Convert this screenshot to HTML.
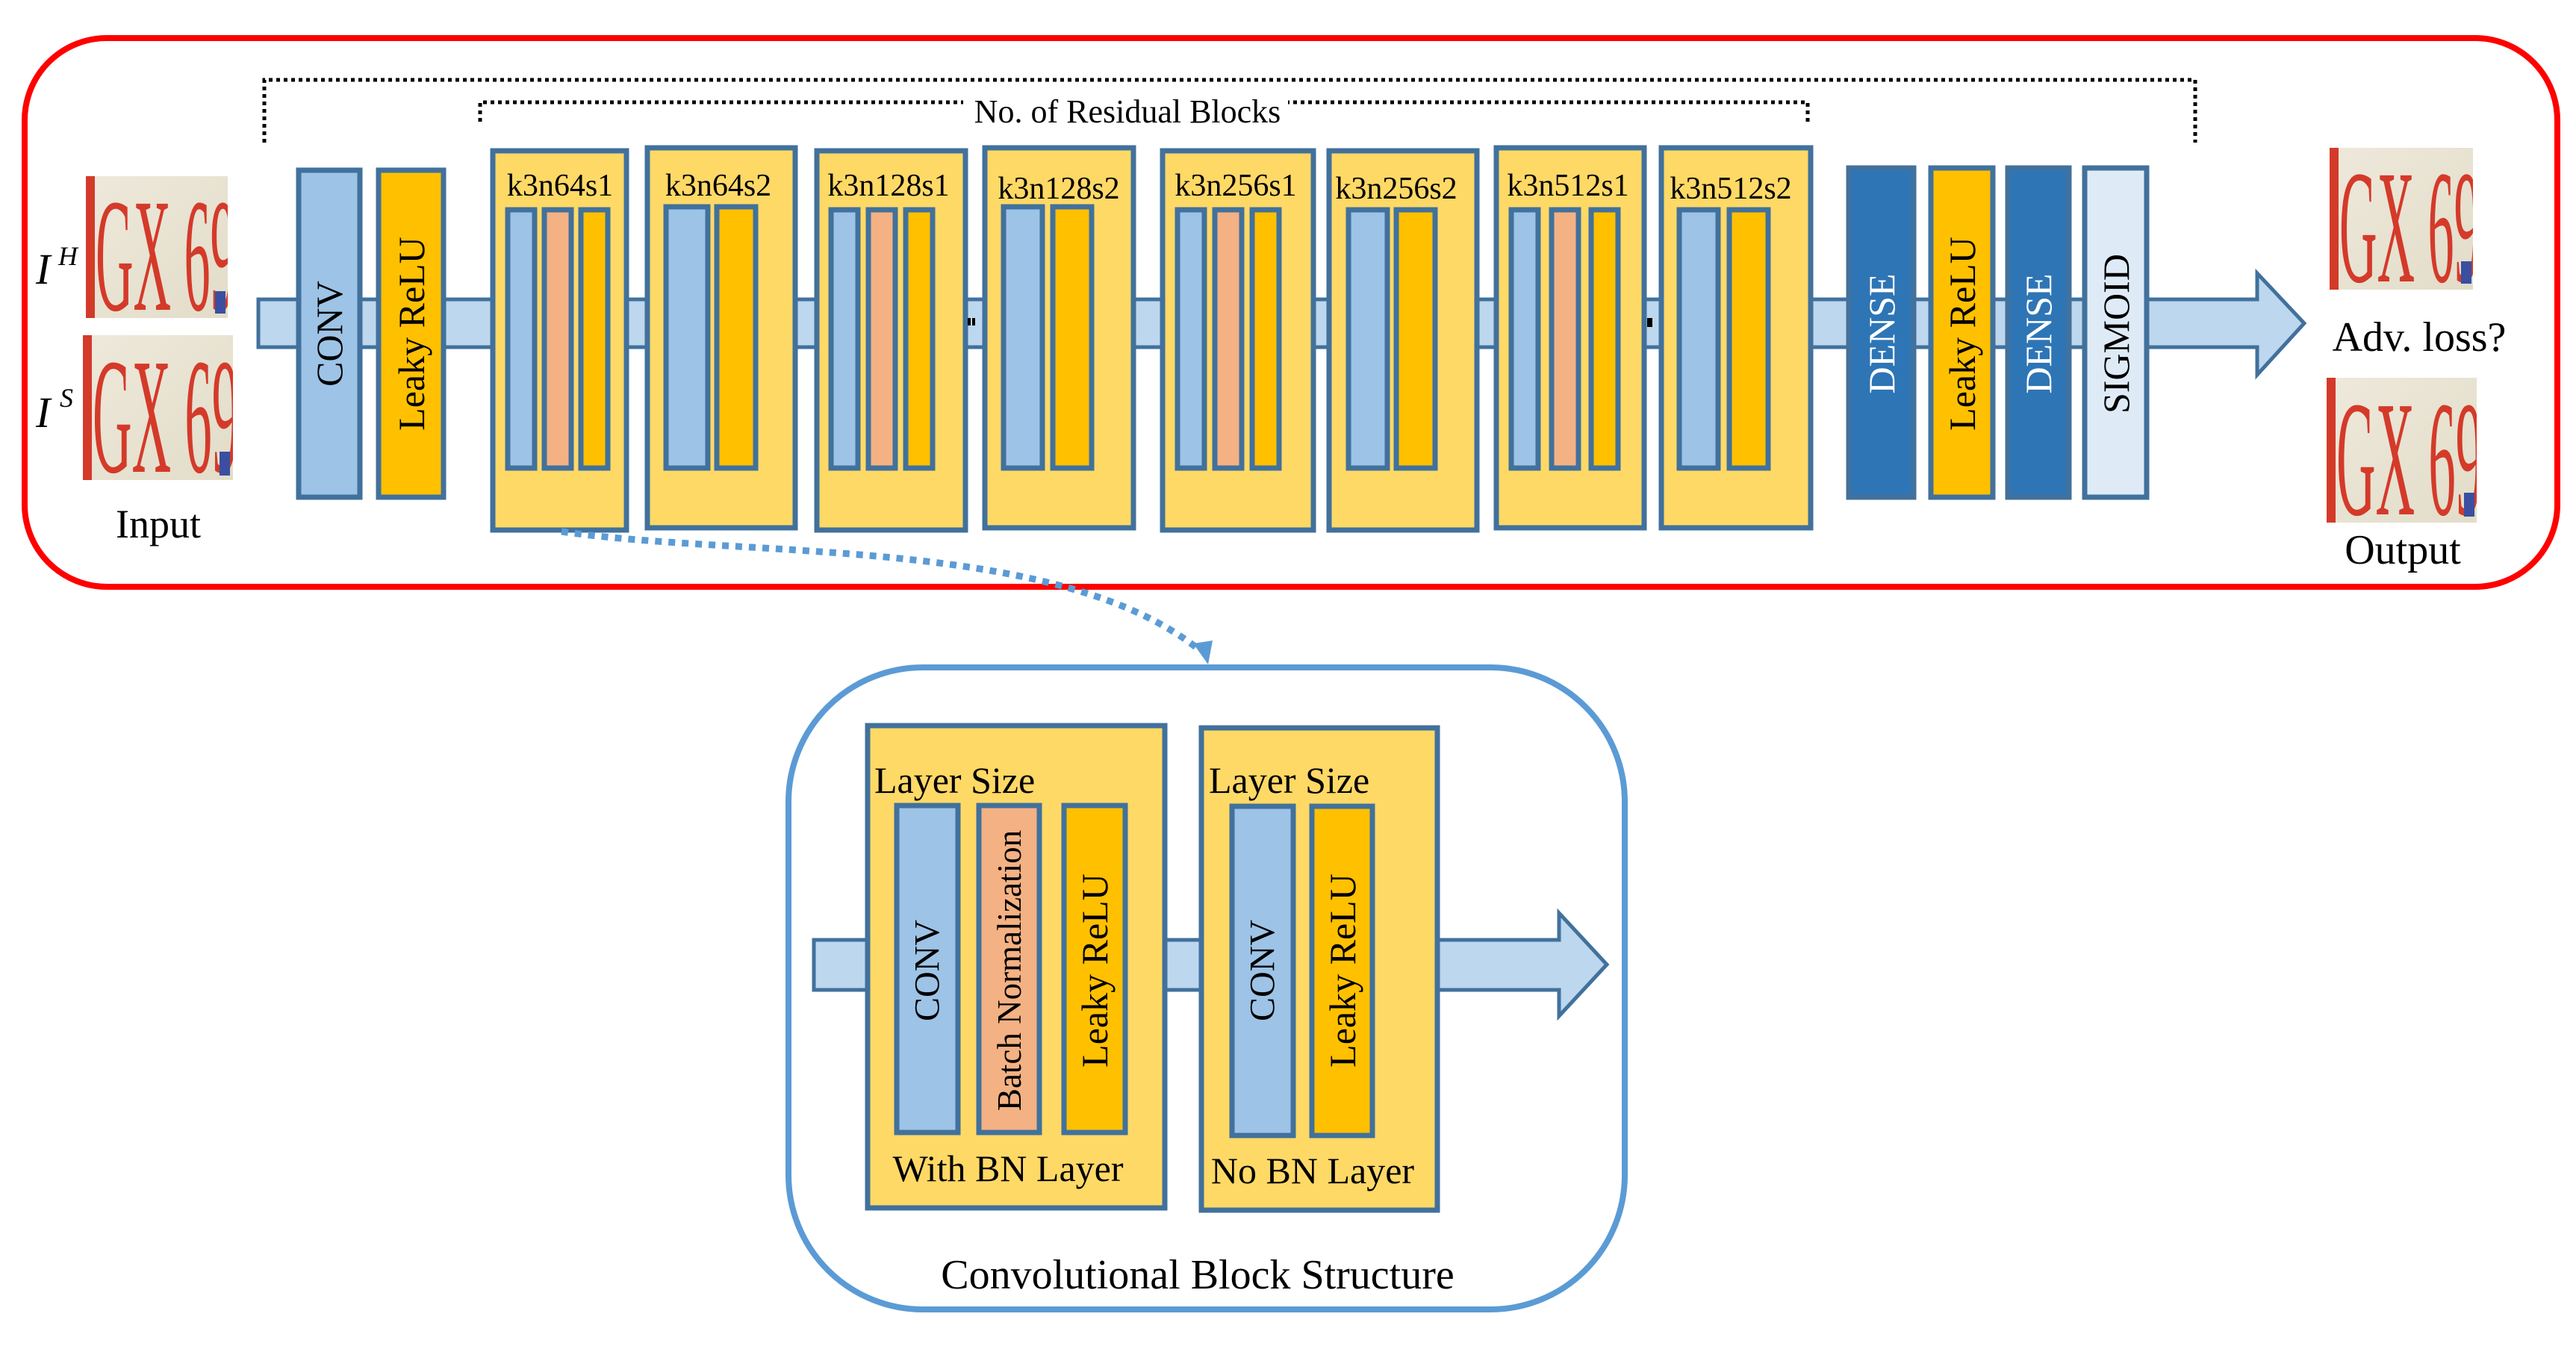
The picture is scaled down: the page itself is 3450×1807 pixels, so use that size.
<!DOCTYPE html>
<html><head><meta charset="utf-8"><style>
html,body{margin:0;padding:0;background:#fff;}
svg{display:block;}
svg text{font-family:"Liberation Serif","DejaVu Serif",serif;}
</style></head><body>
<svg width="3450" height="1807" viewBox="0 0 3450 1807" xmlns="http://www.w3.org/2000/svg" font-family="Liberation Serif, serif">
<defs>
<linearGradient id="plate" x1="0" y1="0" x2="1" y2="1">
<stop offset="0" stop-color="#efe9dc"/><stop offset="1" stop-color="#e2dcc8"/>
</linearGradient>
<clipPath id="c1"><rect x="115" y="236" width="190" height="190"/></clipPath>
<clipPath id="c2"><rect x="111" y="449" width="201" height="194"/></clipPath>
<clipPath id="c3"><rect x="3120" y="198" width="192" height="190"/></clipPath>
<clipPath id="c4"><rect x="3116" y="506" width="201" height="194"/></clipPath>
</defs>
<rect x="33" y="51" width="3392" height="735" rx="110" ry="110" fill="#fff" stroke="#ff0000" stroke-width="8"/>

<path d="M354,191 V107 H2940 V191" fill="none" stroke="#000" stroke-width="5" stroke-dasharray="5 5"/>
<path d="M643,163 V137 H1290 M2421,163 V137 H1725" fill="none" stroke="#000" stroke-width="5" stroke-dasharray="5 5"/>
<text x="1510" y="164" font-size="44" text-anchor="middle">No. of Residual Blocks</text>

<rect x="115" y="236" width="190" height="190" fill="url(#plate)"/>
<g clip-path="url(#c1)"><rect x="115" y="236" width="12" height="190" fill="#d43a2a"/><g transform="translate(128,415) scale(0.5,1.55)"><text font-family="Liberation Sans, sans-serif" font-size="140" fill="#d43a2a">GX 6935</text></g></g>
<rect x="288" y="390" width="14" height="30" fill="#3a4fa0"/>
<rect x="111" y="449" width="201" height="194" fill="url(#plate)"/>
<g clip-path="url(#c2)"><rect x="111" y="449" width="12" height="194" fill="#d43a2a"/><g transform="translate(124,632) scale(0.52,1.58)"><text font-family="Liberation Sans, sans-serif" font-size="140" fill="#d43a2a">GX 6935</text></g></g>
<rect x="294" y="605" width="14" height="32" fill="#3a4fa0"/>
<text x="48" y="380" font-size="58" font-style="italic">I</text><text x="78" y="355" font-size="36" font-style="italic">H</text>
<text x="48" y="572" font-size="58" font-style="italic">I</text><text x="80" y="545" font-size="36" font-style="italic">S</text>
<text x="212" y="720" font-size="54" text-anchor="middle">Input</text>

<rect x="3120" y="198" width="192" height="190" fill="url(#plate)"/>
<g clip-path="url(#c3)"><rect x="3120" y="198" width="12" height="190" fill="#d43a2a"/><g transform="translate(3133,377) scale(0.5,1.55)"><text font-family="Liberation Sans, sans-serif" font-size="140" fill="#d43a2a">GX 6935</text></g></g>
<rect x="3296" y="350" width="14" height="30" fill="#3a4fa0"/>
<rect x="3116" y="506" width="201" height="194" fill="url(#plate)"/>
<g clip-path="url(#c4)"><rect x="3116" y="506" width="12" height="194" fill="#d43a2a"/><g transform="translate(3129,689) scale(0.52,1.58)"><text font-family="Liberation Sans, sans-serif" font-size="140" fill="#d43a2a">GX 6935</text></g></g>
<rect x="3300" y="660" width="14" height="32" fill="#3a4fa0"/>
<text x="3240" y="470" font-size="56" text-anchor="middle">Adv. loss?</text>
<text x="3218" y="755" font-size="56" text-anchor="middle">Output</text>

<path d="M346,401 H3023 V366 L3086,433 L3023,502 V465 H346 Z" fill="#bdd7ee" stroke="#41719c" stroke-width="5"/>

<rect x="400" y="228" width="82" height="438" fill="#9dc3e6" stroke="#41719c" stroke-width="7"/>
<text transform="translate(441,447) rotate(-90)" font-size="50" text-anchor="middle" dominant-baseline="central">CONV</text>
<rect x="507" y="228" width="87" height="438" fill="#ffc000" stroke="#41719c" stroke-width="7"/>
<text transform="translate(551,447) rotate(-90)" font-size="50" text-anchor="middle" dominant-baseline="central">Leaky ReLU</text>

<g stroke="#41719c" stroke-width="7">
<rect x="660" y="202" width="179" height="508" fill="#ffd966"/>
<rect x="867" y="198" width="198" height="509" fill="#ffd966"/>
<rect x="1094" y="202" width="199" height="508" fill="#ffd966"/>
<rect x="1319" y="198" width="199" height="509" fill="#ffd966"/>
<rect x="1557" y="202" width="202" height="508" fill="#ffd966"/>
<rect x="1780" y="202" width="198" height="508" fill="#ffd966"/>
<rect x="2004" y="198" width="198" height="509" fill="#ffd966"/>
<rect x="2225" y="198" width="200" height="509" fill="#ffd966"/>
</g>
<g font-size="42" text-anchor="middle">
<text x="750" y="262">k3n64s1</text>
<text x="962" y="262">k3n64s2</text>
<text x="1190" y="262">k3n128s1</text>
<text x="1418" y="266">k3n128s2</text>
<text x="1655" y="262">k3n256s1</text>
<text x="1870" y="266">k3n256s2</text>
<text x="2100" y="262">k3n512s1</text>
<text x="2318" y="266">k3n512s2</text>
</g>
<g stroke="#41719c" stroke-width="7">
<rect x="680" y="281" width="36" height="346" fill="#9dc3e6"/>
<rect x="729" y="281" width="36" height="346" fill="#f4b183"/>
<rect x="778" y="281" width="36" height="346" fill="#ffc000"/>
<rect x="1113" y="281" width="36" height="346" fill="#9dc3e6"/>
<rect x="1163" y="281" width="36" height="346" fill="#f4b183"/>
<rect x="1213" y="281" width="36" height="346" fill="#ffc000"/>
<rect x="1577" y="281" width="36" height="346" fill="#9dc3e6"/>
<rect x="1627" y="281" width="36" height="346" fill="#f4b183"/>
<rect x="1677" y="281" width="36" height="346" fill="#ffc000"/>
<rect x="2024" y="281" width="36" height="346" fill="#9dc3e6"/>
<rect x="2078" y="281" width="36" height="346" fill="#f4b183"/>
<rect x="2131" y="281" width="36" height="346" fill="#ffc000"/>
<rect x="892" y="277" width="56" height="350" fill="#9dc3e6"/>
<rect x="960" y="277" width="52" height="350" fill="#ffc000"/>
<rect x="1344" y="277" width="52" height="350" fill="#9dc3e6"/>
<rect x="1410" y="277" width="52" height="350" fill="#ffc000"/>
<rect x="1806" y="281" width="52" height="346" fill="#9dc3e6"/>
<rect x="1870" y="281" width="52" height="346" fill="#ffc000"/>
<rect x="2249" y="281" width="52" height="346" fill="#9dc3e6"/>
<rect x="2316" y="281" width="52" height="346" fill="#ffc000"/>
</g>
<rect x="1296" y="426" width="4" height="10" fill="#000"/><rect x="1302" y="426" width="4" height="10" fill="#000"/>
<rect x="2206" y="426" width="7" height="12" fill="#000"/>

<g stroke="#41719c" stroke-width="7">
<rect x="2476" y="225" width="87" height="441" fill="#2e75b6"/>
<rect x="2586" y="225" width="83" height="441" fill="#ffc000"/>
<rect x="2689" y="225" width="82" height="441" fill="#2e75b6"/>
<rect x="2792" y="225" width="83" height="441" fill="#deebf7"/>
</g>
<text transform="translate(2520,447) rotate(-90)" font-size="50" text-anchor="middle" dominant-baseline="central" fill="#fff">DENSE</text>
<text transform="translate(2628,447) rotate(-90)" font-size="50" text-anchor="middle" dominant-baseline="central">Leaky ReLU</text>
<text transform="translate(2730,447) rotate(-90)" font-size="50" text-anchor="middle" dominant-baseline="central" fill="#fff">DENSE</text>
<text transform="translate(2834,447) rotate(-90)" font-size="50" text-anchor="middle" dominant-baseline="central">SIGMOID</text>

<path d="M752,712 C1000,748 1420,718 1608,872" fill="none" stroke="#5b9bd5" stroke-width="9" stroke-dasharray="9 9"/>
<path d="M1598,862 L1624,858 L1618,890 Z" fill="#5b9bd5"/>

<rect x="1056" y="894" width="1120" height="860" rx="180" ry="180" fill="#fff" stroke="#5b9bd5" stroke-width="8"/>
<path d="M1090,1259 H2088 V1223 L2152,1292 L2088,1361 V1326 H1090 Z" fill="#bdd7ee" stroke="#41719c" stroke-width="5"/>
<g stroke="#41719c" stroke-width="7">
<rect x="1162" y="972" width="398" height="646" fill="#ffd966"/>
<rect x="1609" y="975" width="316" height="646" fill="#ffd966"/>
<rect x="1201" y="1079" width="82" height="438" fill="#9dc3e6"/>
<rect x="1311" y="1079" width="81" height="438" fill="#f4b183"/>
<rect x="1425" y="1079" width="82" height="438" fill="#ffc000"/>
<rect x="1650" y="1080" width="82" height="441" fill="#9dc3e6"/>
<rect x="1757" y="1080" width="81" height="441" fill="#ffc000"/>
</g>
<text x="1171" y="1062" font-size="50">Layer Size</text>
<text x="1619" y="1062" font-size="50">Layer Size</text>
<text transform="translate(1242,1300) rotate(-90)" font-size="48" text-anchor="middle" dominant-baseline="central">CONV</text>
<text transform="translate(1352,1300) rotate(-90)" font-size="45" text-anchor="middle" dominant-baseline="central">Batch Normalization</text>
<text transform="translate(1466,1300) rotate(-90)" font-size="50" text-anchor="middle" dominant-baseline="central">Leaky ReLU</text>
<text transform="translate(1691,1300) rotate(-90)" font-size="48" text-anchor="middle" dominant-baseline="central">CONV</text>
<text transform="translate(1798,1300) rotate(-90)" font-size="50" text-anchor="middle" dominant-baseline="central">Leaky ReLU</text>
<text x="1350" y="1582" font-size="50" text-anchor="middle">With BN Layer</text>
<text x="1758" y="1585" font-size="50" text-anchor="middle">No BN Layer</text>
<text x="1604" y="1726" font-size="56" text-anchor="middle">Convolutional Block Structure</text>
</svg>
</body></html>
